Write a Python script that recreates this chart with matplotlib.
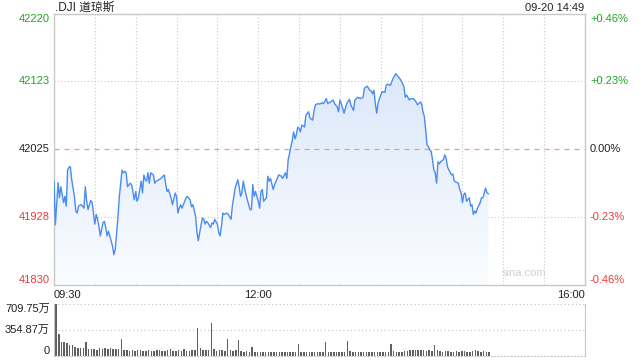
import numpy as np
import matplotlib
matplotlib.use("Agg")
import matplotlib.pyplot as plt
from matplotlib.colors import LinearSegmentedColormap

plt.rcParams['font.family'] = ['Liberation Sans', 'Noto Sans CJK SC', 'DejaVu Sans']

title = ".DJI 道琼斯"
stamp = "09-20 14:49"
prev_close = 42025
y_ticks = [41830, 41928, 42025, 42123, 42220]
vol_ticks = [0, 354.87, 709.75]
time_labels = ["09:30", "12:00", "16:00"]

# minutes after 09:30 and index level
minutes = [0, 1, 3, 4, 5, 7, 8, 9, 10, 11, 12, 13, 15, 16, 17, 18, 20, 21, 22, 23,
           24, 25, 26, 27, 28, 30, 31, 32, 33, 34, 36, 37, 38, 39, 40, 41, 43, 44, 45, 46,
           47, 48, 49, 50, 51, 52, 53, 54, 56, 57, 59, 60, 61, 62, 64, 65, 66, 67, 68, 69,
           70, 71, 73, 74, 75, 78, 81, 83, 84, 86, 87, 89, 90, 91, 92, 93, 94, 95, 97, 98,
           100, 101, 102, 104, 105, 106, 107, 109, 110, 111, 112, 113, 115, 116, 117, 118,
           120, 121, 122, 123, 124, 125, 127, 128, 130, 131, 133, 135, 136, 137, 138, 139,
           140, 141, 142, 144, 145, 146, 147, 148, 150, 151, 152, 153, 154, 156, 157, 158,
           159, 161, 162, 164, 165, 167, 168, 170, 171, 172, 173, 174, 175, 176, 177, 178,
           179, 180, 181, 182, 184, 185, 187, 188, 190, 191, 192, 194, 195, 197, 198, 200,
           201, 203, 205, 206, 208, 209, 210, 211, 213, 215, 217, 218, 220, 221, 223, 225,
           227, 228, 230, 232, 233, 234, 235, 236, 237, 238, 239, 241, 243, 244, 245, 247,
           249, 251, 253, 254, 256, 257, 258, 259, 261, 262, 264, 266, 267, 269, 270, 271,
           272, 273, 274, 275, 276, 277, 278, 279, 280, 281, 282, 283, 284, 286, 287, 288,
           289, 290, 292, 293, 294, 297, 298, 299, 300, 301, 302, 303, 305, 306, 307, 308,
           309, 310, 311, 313, 314, 315, 317, 318, 319]
prices = [41979, 41916, 41977, 41955, 41971, 41948, 41957, 41943, 41995, 41999, 42000, 41981,
          41957, 41936, 41933, 41943, 41945, 41943, 41940, 41971, 41950, 41938, 41945, 41951,
          41948, 41917, 41931, 41924, 41914, 41900, 41919, 41921, 41912, 41900, 41907, 41900,
          41885, 41873, 41881, 41905, 41928, 41957, 41976, 41995, 41991, 41993, 41991, 41971,
          41976, 41974, 41952, 41964, 41950, 41955, 41979, 41962, 41988, 41981, 41979, 41991,
          41976, 41991, 41988, 41976, 41979, 41982, 41988, 41964, 41967, 41955, 41945, 41962,
          41957, 41933, 41940, 41945, 41940, 41945, 41955, 41957, 41952, 41942, 41945, 41928,
          41905, 41893, 41905, 41926, 41924, 41917, 41921, 41919, 41912, 41919, 41917, 41924,
          41917, 41905, 41900, 41914, 41933, 41931, 41933, 41931, 41924, 41943, 41969, 41981,
          41971, 41957, 41962, 41979, 41969, 41960, 41952, 41938, 41938, 41974, 41957, 41964,
          41950, 41940, 41964, 41967, 41950, 41955, 41986, 41979, 41983, 41967, 41974, 41983,
          41988, 41986, 41983, 41991, 41983, 42010, 42019, 42029, 42038, 42050, 42040, 42046,
          42057, 42055, 42050, 42060, 42057, 42074, 42079, 42070, 42067, 42081, 42089, 42091,
          42090, 42092, 42091, 42098, 42091, 42093, 42096, 42091, 42086, 42079, 42096, 42091,
          42077, 42091, 42097, 42089, 42081, 42096, 42100, 42098, 42100, 42113, 42116, 42110,
          42109, 42105, 42110, 42091, 42077, 42091, 42098, 42108, 42107, 42117, 42119, 42117,
          42127, 42134, 42129, 42127, 42120, 42115, 42100, 42103, 42096, 42098, 42098, 42093,
          42089, 42093, 42091, 42079, 42072, 42053, 42031, 42029, 42024, 42022, 42010, 41995,
          41991, 41976, 42007, 42004, 42007, 42010, 42017, 42012, 42000, 41995, 41988, 41989,
          41979, 41976, 41967, 41962, 41948, 41960, 41962, 41950, 41955, 41943, 41945, 41931,
          41936, 41933, 41940, 41948, 41955, 41955, 41969, 41962, 41961]

# volume in 万, one bar per two minutes
volume = [709.75, 300, 190, 185, 175, 150, 140, 120, 110, 105, 100, 190,
          90, 85, 95, 80, 100,
          90, 110, 95, 100, 95, 90, 85, 225,
          70, 75, 65, 70, 60, 75, 70, 65, 60, 70, 65, 60, 70, 75, 65, 60, 70, 97, 65, 60,
          70, 65, 97, 60,
          60, 70, 80,
          382, 110, 75, 70, 80, 451, 90, 65, 70, 75, 65, 230, 80, 60, 70, 216, 65, 55, 60,
          55, 115,
          50, 45, 55, 50, 45, 50, 55, 45, 50, 55, 45, 50, 45, 55, 50, 45,
          161,
          50, 45, 55, 50, 45, 50, 55, 50, 45,
          184,
          50, 45, 55, 50, 45, 50, 55,
          198,
          60, 55, 50, 45, 50, 45, 50, 55, 50, 45, 50, 45,
          50, 55, 45,
          161,
          60, 55, 50, 55, 60, 65, 70, 80, 75, 70, 80, 75, 65, 70, 60,
          143,
          70, 60, 55, 65, 60, 55, 50, 60, 55, 65, 60, 50, 55, 60, 75, 60, 55, 65, 50, 45]

GREEN = '#1ea81e'
RED = '#f03a3a'
DARK = '#222222'
GRID = '#c8c8c8'

fig = plt.figure(figsize=(6.4, 3.6), dpi=100)
ax = fig.add_axes([54 / 640, 1 - 284.5 / 360, 531 / 640, 270.5 / 360])

# gradient fill under the line
cmap = LinearSegmentedColormap.from_list('fill', ['#fafcff', '#d3e2f8'])
grad = np.linspace(0, 1, 256).reshape(-1, 1)
im = ax.imshow(grad, extent=[0, 390, y_ticks[0], y_ticks[-1]], origin='lower',
               aspect='auto', cmap=cmap, zorder=1)
poly = ax.fill_between(minutes, prices, y_ticks[0], color='none', lw=0)
im.set_clip_path(poly.get_paths()[0], transform=ax.transData)
ax.plot(minutes, prices, color='#4a8cf0', lw=1.0, zorder=3)

ax.set_xlim(0, 390)
ax.set_ylim(y_ticks[0], y_ticks[-1])

for m in range(30, 390, 30):
    ax.axvline(m, color=GRID, ls=(0, (1, 2)), lw=0.8, zorder=0.5)
for v in y_ticks[1:-1]:
    if v == prev_close:
        ax.axhline(v, color='#f0a070', ls=(0, (4, 4)), lw=0.9, zorder=2)
    else:
        ax.axhline(v, color=GRID, ls=(0, (1, 2)), lw=0.8, zorder=0.5)

for s in ax.spines.values():
    s.set_color(GRID)
    s.set_linewidth(1)
ax.set_xticks([])
ax.set_yticks([])

ytr = ax.get_yaxis_transform()
for i, v in enumerate(y_ticks):
    col = GREEN if v > prev_close else (RED if v < prev_close else DARK)
    va = 'top' if i == len(y_ticks) - 1 else ('bottom' if i == 0 else 'center')
    pct = (v - prev_close) / prev_close * 100
    ptxt = "0.00%" if abs(pct) < 0.005 else f"{pct:+.2f}%"
    ax.text(-4 / 531, v, str(v), transform=ytr, ha='right', va=va, color=col, fontsize=8)
    ax.text(1 + 5 / 531, v, ptxt, transform=ytr, ha='left', va=va, color=col, fontsize=8)

ax.text(0, -0.022, time_labels[0], transform=ax.transAxes, ha='left', va='top',
        fontsize=8, color=DARK)
ax.text(150 / 390, -0.022, time_labels[1], transform=ax.transAxes, ha='center', va='top',
        fontsize=8, color=DARK)
ax.text(1, -0.022, time_labels[2], transform=ax.transAxes, ha='right', va='top',
        fontsize=8, color=DARK)
ax.text(0.928, 0.025, "sina.com", transform=ax.transAxes, ha='right', va='bottom',
        fontsize=8, color='#d0d0d0')

fig.text(55 / 640, 1 - 8 / 360, title, ha='left', va='center', fontsize=8.5, color=DARK)
fig.text(584 / 640, 1 - 8 / 360, stamp, ha='right', va='center', fontsize=8, color=DARK)

# volume panel
vax = fig.add_axes([54 / 640, 1 - 355.5 / 360, 531 / 640, 51.2 / 360])
xs = np.arange(len(volume)) * 2 + 1.5
vax.bar(xs, volume, width=1.1, color='#606060', lw=0)
vax.set_xlim(0, 390)
vax.set_ylim(0, vol_ticks[-1])
for v in vol_ticks[1:]:
    vax.axhline(v, color=GRID, ls=(0, (1, 2)), lw=0.9, zorder=0.5)
vax.spines['top'].set_visible(False)
vax.spines['bottom'].set_linestyle((0, (1, 2)))
for s in vax.spines.values():
    s.set_color(GRID)
vax.set_xticks([])
vax.set_yticks([])
vtr = vax.get_yaxis_transform()
for i, v in enumerate(vol_ticks):
    lab = "0" if v == 0 else f"{v:.2f}万"
    va = 'top' if i == len(vol_ticks) - 1 else ('bottom' if i == 0 else 'center')
    vax.text(-4 / 531, v, lab, transform=vtr, ha='right', va=va, fontsize=8, color=DARK)

fig.savefig("out.png", dpi=100)
